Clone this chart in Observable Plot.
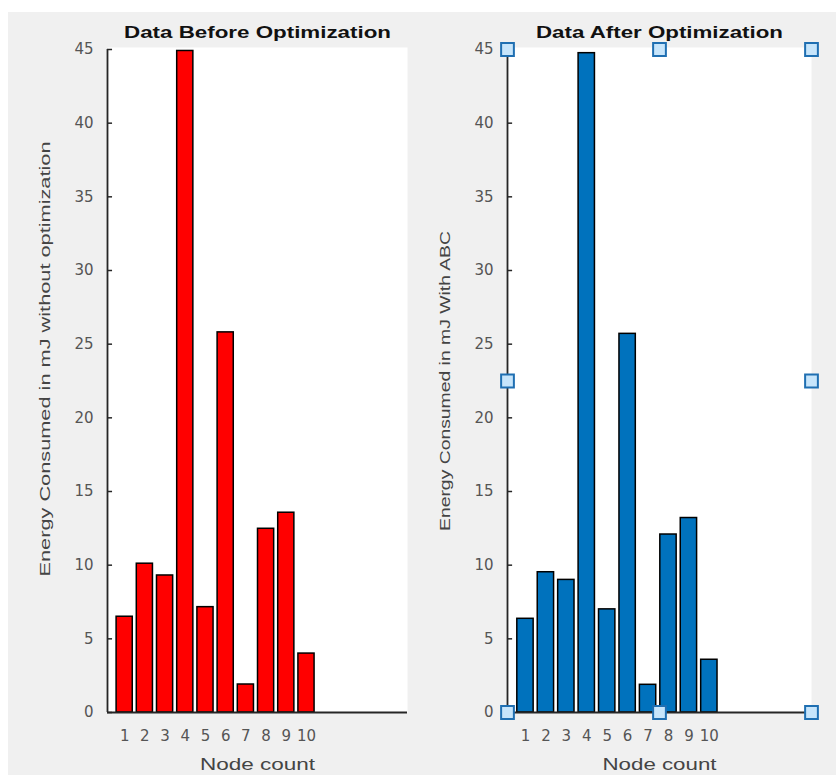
<!DOCTYPE html>
<html>
<head>
<meta charset="utf-8">
<script src="https://cdn.jsdelivr.net/npm/d3@7"></script>
<script src="https://cdn.jsdelivr.net/npm/@observablehq/plot@0.6"></script>
<style>
  html, body { margin: 0; padding: 0; background: #ffffff; }
  #fig { position: absolute; left: 8px; top: 12px; width: 828px; height: 763px; background: #f0f0f0; overflow: hidden; }
  #left { position: absolute; left: 0px; top: 0px; }
  #right { position: absolute; left: 410px; top: 0px; }
</style>
</head>
<body>
<div id="fig"><div id="left"></div><div id="right"></div></div>
<script>
// ---- data ----
const nodes = [1, 2, 3, 4, 5, 6, 7, 8, 9, 10];
const energyBefore = [6.5, 10.1, 9.3, 44.9, 7.15, 25.8, 1.9, 12.47, 13.56, 4.0];
const energyAfter = [6.36, 9.52, 9.0, 44.75, 7.0, 25.7, 1.88, 12.08, 13.2, 3.58];
const yTicks = [0, 5, 10, 15, 20, 25, 30, 35, 40, 45];
const xTicks = nodes;
const titleBefore = "Data Before Optimization";
const titleAfter = "Data After Optimization";
const yLabelBefore = "Energy Consumed in mJ without optimization";
const yLabelAfter = "Energy Consumed in mJ With ABC";
const xLabel = "Node count";

function panel(opts) {
  const {values, fill, xDomain, width, marginLeft, marginRight, title, yLabel, handles,
         titleLen, yLabelLen, xLabelLen, yLabelDy} = opts;
  const data = nodes.map((n, i) => ({node: n, value: values[i]}));
  const yMax = yTicks[yTicks.length - 1];
  const x0 = xDomain[0], x1 = xDomain[1];
  const marks = [
    Plot.frame({fill: "white", stroke: null, insetTop: -2}),
    Plot.rectY(data, {
      x1: d => d.node - 0.4, x2: d => d.node + 0.4, y1: 0, y2: "value",
      fill, stroke: "#000", strokeWidth: 1.5
    }),
    // inward y ticks
    Plot.ruleY(yTicks, {x1: x0, x2: x0 + 0.25, stroke: "#262626", strokeWidth: 1.5}),
    // axis lines
    Plot.ruleX([x0], {y1: 0, y2: yMax, stroke: "#262626", strokeWidth: 1.8}),
    Plot.ruleY([0], {x1: x0, x2: x1, stroke: "#262626", strokeWidth: 1.8}),
    Plot.axisY({ticks: yTicks, tickSize: 0, tickPadding: 14, label: null,
      fontSize: 15, fill: "#555", fontFamily: "DejaVu Sans"}),
    Plot.axisX({ticks: xTicks, tickSize: 0, tickPadding: 18, label: null,
      fontSize: 15, fill: "#555", fontFamily: "DejaVu Sans"}),
    Plot.text([title], {frameAnchor: "top", lineAnchor: "bottom", dy: -12,
      fontSize: 16, fontWeight: "bold", fill: "#111", fontFamily: "Liberation Sans"}),
    Plot.text([yLabel], {frameAnchor: "left", textAnchor: "middle", rotate: -90, dx: -62, dy: yLabelDy,
      fontSize: 15, fill: "#444", fontFamily: "Liberation Sans"}),
    Plot.text([xLabel], {frameAnchor: "bottom", lineAnchor: "bottom", dy: 57,
      fontSize: 16, fill: "#444", fontFamily: "Liberation Sans"})
  ];
  if (handles) {
    const xm = (x0 + x1) / 2, ym = yMax / 2;
    const hs = [
      {x: x0, y: yMax}, {x: xm, y: yMax}, {x: x1, y: yMax},
      {x: x0, y: ym}, {x: x1, y: ym},
      {x: x0, y: 0}, {x: xm, y: 0}, {x: x1, y: 0}
    ];
    marks.push(Plot.dot(hs, {x: "x", y: "y", symbol: "square", r: 7.2,
      fill: "#c7e5fb", stroke: "#1f6fb2", strokeWidth: 2}));
  }
  const svg = Plot.plot({
    width, height: 763,
    marginLeft, marginRight, marginTop: 37, marginBottom: 63,
    x: {domain: xDomain},
    y: {domain: [0, yMax]},
    style: {background: "transparent", overflow: "visible"},
    marks
  });
  const sel = d3.select(svg);
  const stretch = (txt, len) => sel.selectAll("text")
    .filter(function () { return this.textContent === txt; })
    .attr("textLength", len).attr("lengthAdjust", "spacingAndGlyphs");
  stretch(title, titleLen);
  stretch(yLabel, yLabelLen);
  stretch(xLabel, xLabelLen);
  return svg;
}

document.getElementById("left").appendChild(panel({
  values: energyBefore, fill: "#ff0000", xDomain: [0.15, 15],
  width: 410, marginLeft: 99, marginRight: 11,
  title: titleBefore, yLabel: yLabelBefore, handles: false,
  titleLen: 267, yLabelLen: 435, xLabelLen: 115, yLabelDy: -22
}));
document.getElementById("right").appendChild(panel({
  values: energyAfter, fill: "#0072bd", xDomain: [0.12, 15],
  width: 418, marginLeft: 89, marginRight: 25,
  title: titleAfter, yLabel: yLabelAfter, handles: true,
  titleLen: 247, yLabelLen: 300, xLabelLen: 114, yLabelDy: 0
}));
</script>
</body>
</html>
